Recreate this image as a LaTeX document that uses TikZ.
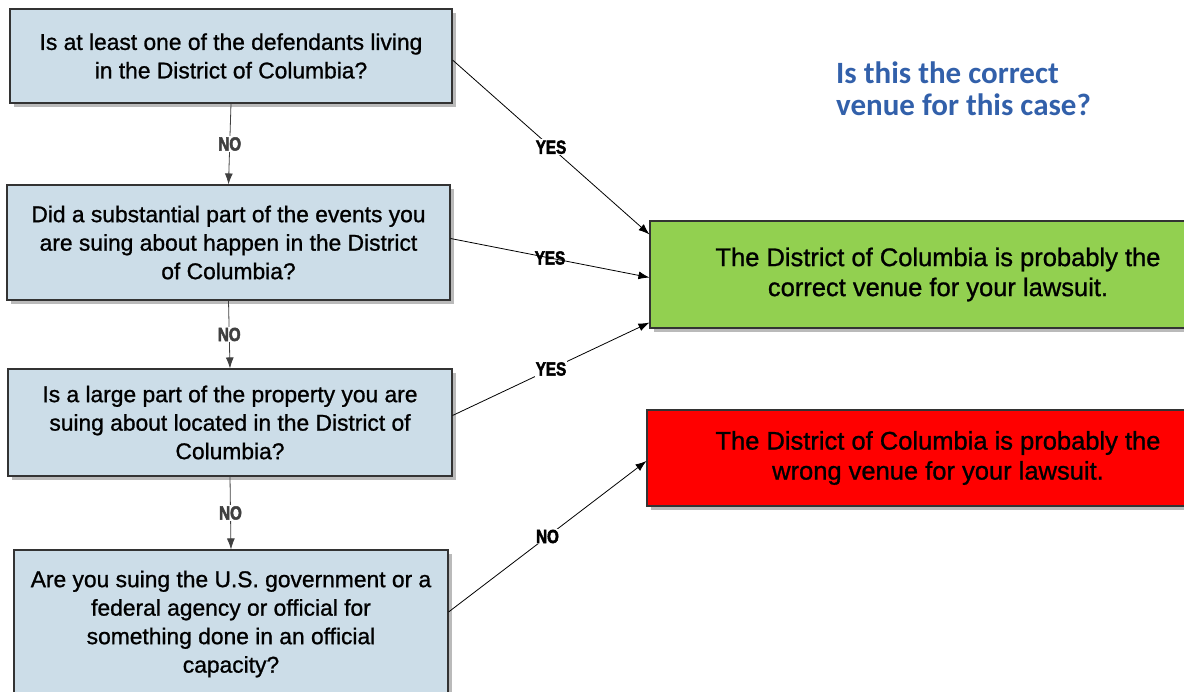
\documentclass[tikz,border=0pt]{standalone}
\usepackage{fontspec}
\setmainfont{Liberation Sans}
\newfontfamily\boxfont[FakeBold=1]{Liberation Sans}
\newfontfamily\titlefont{Carlito}
\newfontfamily\condfont[FakeStretch=0.8,FakeBold=2.5]{Liberation Sans}
\usetikzlibrary{calc,arrows.meta,shadows,positioning}
\definecolor{qblue}{RGB}{204,221,232}
\definecolor{venuegreen}{RGB}{146,208,80}
\definecolor{venuered}{RGB}{255,0,0}
\definecolor{titleblue}{RGB}{50,96,170}
\tikzset{arr/.style={-{Latex[length=11pt,width=8pt]},line width=0.8pt}}

\begin{document}
\begin{tikzpicture}[x=1pt,y=-1pt]

\tikzset{qnode/.style={draw=black!80,line width=1.1pt,fill=qblue,align=center,inner sep=0pt,font=\boxfont\fontsize{22.8}{28.5}\selectfont,drop shadow={shadow xshift=4pt,shadow yshift=-4pt,opacity=.45,fill=black!60}},
venuenode/.style={draw=black!80,line width=1.1pt,align=center,inner sep=0pt,font=\boxfont\fontsize{25.5}{30}\selectfont,drop shadow={shadow xshift=4pt,shadow yshift=-4pt,opacity=.45,fill=black!60}},
yesno/.style={fill=white,inner sep=1pt,font=\condfont\bfseries\fontsize{19}{19}\selectfont}}

\useasboundingbox (0,0) rectangle (1184,692);

% Question boxes
\node[qnode,minimum width=442pt,minimum height=94pt] (q1) at (231,56) {Is at least one of the defendants living\\in the District of Columbia?};
\node[qnode,minimum width=443pt,minimum height=115pt] (q2) at (228.5,242.5) {Did a substantial part of the events you\\are suing about happen in the District\\of Columbia?};
\node[qnode,minimum width=444pt,minimum height=107pt] (q3) at (230,422.5) {Is a large part of the property you are\\suing about located in the District of\\Columbia?};
\node[qnode,minimum width=434pt,minimum height=148pt] (q4) at (231,624) {Are you suing the U.S. government or a\\federal agency or official for\\something done in an official\\capacity?};

% Venue boxes (they run off the right edge)
\node[venuenode,fill=venuegreen,minimum width=576pt,minimum height=107pt] (correct) at (938,274.5) {The District of Columbia is probably the\\correct venue for your lawsuit.};
\node[venuenode,fill=venuered,minimum width=582pt,minimum height=96pt] (wrong) at (938,458) {The District of Columbia is probably the\\wrong venue for your lawsuit.};

% Title
\node[anchor=north west,align=left,inner sep=0pt,text=titleblue,font=\titlefont\bfseries\fontsize{31}{32}\selectfont] (title) at (836,62) {Is this the correct\\venue for this case?};

% NO chain
\draw[arr,black!75] (q1.south) -- node[yesno] {NO} (q2.north);
\draw[arr,black!75] (q2.south) -- node[yesno] {NO} (q3.north);
\draw[arr,black!75] (q3.south) -- node[yesno] {NO} (q4.north);

% YES / NO to the venues
\draw[arr] ([yshift=-4pt]q1.east) -- node[yesno] {YES} ([yshift=-14pt]correct.north west);
\draw[arr] ([yshift=4pt]q2.east) -- node[yesno,fill=none] {YES} ([yshift=-3pt]correct.west);
\draw[arr] ([yshift=7pt]q3.east) -- node[yesno] {YES} ([yshift=6pt]correct.south west);
\draw[arr] ([yshift=12pt]q4.east) -- node[yesno] {NO} ([yshift=-3pt]wrong.west);

\end{tikzpicture}
\end{document}
